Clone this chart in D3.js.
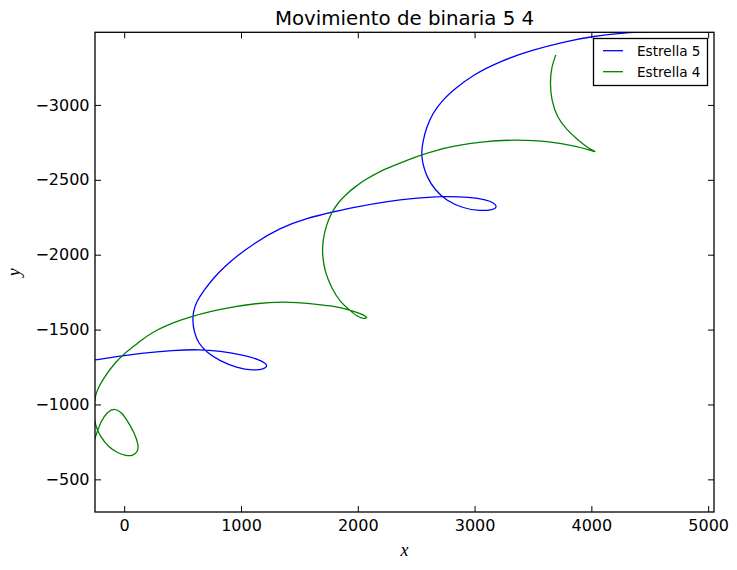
<!DOCTYPE html>
<html><head><meta charset="utf-8">
<script src="https://cdn.jsdelivr.net/npm/d3@7"></script>
<style>body{margin:0;background:#fff} text{font-family:"DejaVu Sans",sans-serif}</style>
</head><body><svg id="c" width="737" height="570"></svg>
<script>
const chartTitle = "Movimiento de binaria 5 4";
const seriesNames = ["Estrella 5", "Estrella 4"];
const seriesColors = ["#0000ff", "#008000"];
const star5X = [-260,-65,134,420,648,819,1019,1162,1233,1205,1104,962,819,706,634,597,586,591,620,676,762,862,973,1104,1333,1562,1804,1990,2275,2446,2731,2960,3103,3165,3195,3159,3045,2903,2760,2660,2589,2551,2546,2557,2589,2643,2720,2817,2988,3217,3502,3788,4016,4270,4587];
const star5Y = [-1296,-1320,-1342,-1362,-1368,-1356,-1331,-1298,-1264,-1236,-1226,-1246,-1291,-1349,-1409,-1487,-1558,-1620,-1687,-1754,-1843,-1922,-1995,-2072,-2179,-2244,-2289,-2321,-2357,-2374,-2392,-2384,-2366,-2346,-2322,-2299,-2292,-2310,-2359,-2433,-2521,-2621,-2686,-2755,-2853,-2947,-3027,-3100,-3202,-3292,-3369,-3425,-3459,-3481,-3497];
const star4X = [-258,-197,-140,-88,-26,32,89,123,117,74,17,-54,-140,-202,-231,-253,-264,-253,-247,-225,-168,-82,3,117,220,477,848,1134,1361,1618,1819,1932,2033,2089,2052,1992,1932,1847,1776,1718,1695,1701,1731,1774,1830,1894,1975,2074,2181,2301,2429,2540,2669,2806,3074,3360,3645,3873,3987,4055,3970,3902,3788,3702,3659,3645,3659,3696];
const star4Y = [-755,-897,-952,-975,-952,-886,-808,-730,-685,-657,-657,-675,-719,-786,-830,-886,-957,-1019,-1057,-1109,-1186,-1276,-1342,-1409,-1476,-1569,-1643,-1676,-1688,-1673,-1654,-1631,-1605,-1580,-1571,-1588,-1629,-1687,-1776,-1887,-1999,-2099,-2199,-2279,-2346,-2399,-2453,-2506,-2553,-2593,-2633,-2666,-2696,-2723,-2758,-2768,-2758,-2724,-2700,-2680,-2713,-2755,-2833,-2922,-3033,-3145,-3256,-3334];
const xTicks = [0,1000,2000,3000,4000,5000];
const yTicks = [-3000,-2500,-2000,-1500,-1000,-500];
const xDomain = [-250, 5050];
const yDomain = [-3485, -282];

const svg = d3.select("#c");
const W = 737, H = 570;
const m = {left: 95, top: 32.3, right: 23, bottom: 58};
const pw = W - m.left - m.right, ph = H - m.top - m.bottom;
const x = d3.scaleLinear().domain(xDomain).range([m.left, m.left + pw]);
const y = d3.scaleLinear().domain(yDomain).range([m.top, m.top + ph]);

svg.append("defs").append("clipPath").attr("id","clip")
  .append("rect").attr("x", m.left).attr("y", m.top).attr("width", pw).attr("height", ph);

const series = [
  {name: seriesNames[0], color: seriesColors[0], pts: star5X.map((v,i)=>[v, star5Y[i]])},
  {name: seriesNames[1], color: seriesColors[1], pts: star4X.map((v,i)=>[v, star4Y[i]])}
];
const line = d3.line().x(d=>x(d[0])).y(d=>y(d[1])).curve(d3.curveBasis);
const g = svg.append("g").attr("clip-path","url(#clip)");
series.forEach(s => {
  g.append("path").attr("d", line(s.pts)).attr("fill","none")
   .attr("stroke", s.color).attr("stroke-width", 1.3).attr("stroke-linejoin","round");
});

const fmt = d3.format("d");
function styleAxis(sel, showLabels){
  sel.select(".domain").remove();
  sel.selectAll(".tick line").attr("stroke","#000").attr("stroke-width",1);
  sel.selectAll(".tick text").attr("font-size", 16).attr("fill","#000")
     .attr("font-family","DejaVu Sans");
  if(!showLabels) sel.selectAll(".tick text").remove();
}
svg.append("g").attr("transform",`translate(0,${m.top+ph})`)
  .call(d3.axisBottom(x).tickValues(xTicks).tickFormat(fmt).tickSizeInner(-6).tickSizeOuter(0).tickPadding(8))
  .call(s=>styleAxis(s,true));
svg.append("g").attr("transform",`translate(0,${m.top})`)
  .call(d3.axisTop(x).tickValues(xTicks).tickSizeInner(-6).tickSizeOuter(0))
  .call(s=>styleAxis(s,false));
svg.append("g").attr("transform",`translate(${m.left},0)`)
  .call(d3.axisLeft(y).tickValues(yTicks).tickFormat(fmt).tickSizeInner(-6).tickSizeOuter(0).tickPadding(5.5))
  .call(s=>styleAxis(s,true));
svg.append("g").attr("transform",`translate(${m.left+pw},0)`)
  .call(d3.axisRight(y).tickValues(yTicks).tickSizeInner(-6).tickSizeOuter(0))
  .call(s=>styleAxis(s,false));

svg.append("rect").attr("x", m.left).attr("y", m.top).attr("width", pw).attr("height", ph)
  .attr("fill","none").attr("stroke","#000").attr("stroke-width",1.3);

svg.append("text").attr("x", m.left + pw/2).attr("y", 25).attr("text-anchor","middle")
  .attr("font-size", 19.8).attr("fill","#000").text(chartTitle);

svg.append("text").attr("x", m.left + pw/2).attr("y", 555.5).attr("text-anchor","middle")
  .attr("font-size", 18).attr("font-style","italic").style("font-family","'Liberation Serif',serif").text("x");
svg.append("text").attr("transform", `translate(20,${m.top+ph/2}) rotate(-90)`).attr("text-anchor","middle")
  .attr("font-size", 18).attr("font-style","italic").style("font-family","'Liberation Serif',serif").text("y");

// legend
const lg = svg.append("g");
lg.append("rect").attr("x", 593.5).attr("y", 38.5).attr("width", 114).attr("height", 47)
  .attr("fill","#fff").attr("stroke","#000").attr("stroke-width",1.3);
series.forEach((s,i)=>{
  const yy = 50.7 + i*21;
  lg.append("line").attr("x1",603).attr("x2",623).attr("y1",yy).attr("y2",yy)
    .attr("stroke", s.color).attr("stroke-width",1.3);
  lg.append("text").attr("x",637).attr("y",yy+5).attr("font-size",13.6).attr("fill","#000").text(s.name);
});
</script></body></html>
